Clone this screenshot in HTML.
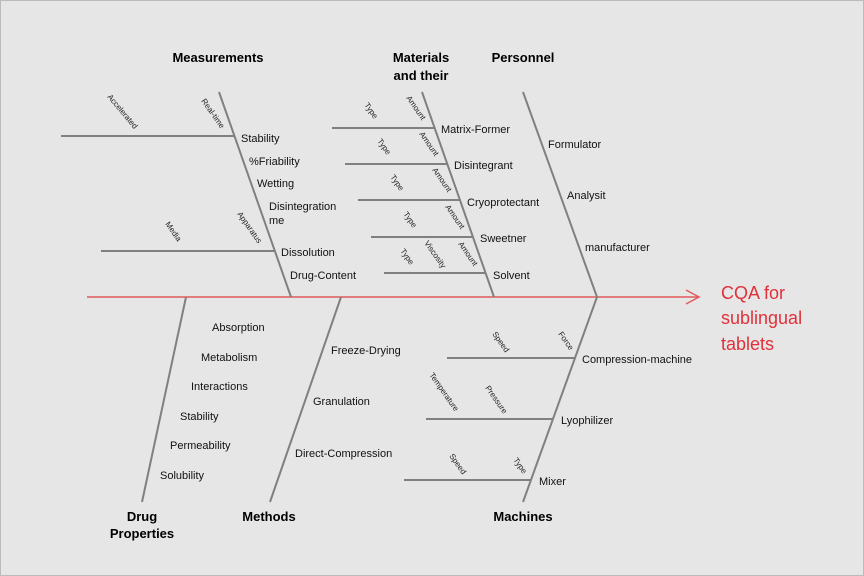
<!DOCTYPE html>
<html><head><meta charset="utf-8"><style>
html,body{margin:0;padding:0;background:#e6e6e6;}
svg{display:block;font-family:"Liberation Sans",sans-serif;}
.l{font-size:11px;fill:#111;}
.h{font-size:13px;font-weight:bold;fill:#000;}
.s{font-size:8px;fill:#222;}
line{stroke:#808080;stroke-width:2;}
</style></head><body>
<svg width="864" height="576" viewBox="0 0 864 576">
<rect x="0.5" y="0.5" width="863" height="575" fill="#e6e6e6" stroke="#bbb"/>
<line x1="87" y1="297" x2="698" y2="297" style="stroke:#e05a5a;stroke-width:1.5"/>
<polyline points="686,290 699,297 686,304" fill="none" stroke="#e05a5a" stroke-width="1.5"/>
<text x="721" y="299" font-size="18" fill="#e0303a">CQA for</text>
<text x="721" y="324" font-size="18" fill="#e0303a">sublingual</text>
<text x="721" y="350" font-size="18" fill="#e0303a">tablets</text>

<line x1="219" y1="92" x2="291" y2="297"/>
<line x1="422" y1="92" x2="494" y2="297"/>
<line x1="523" y1="92" x2="597" y2="297"/>
<line x1="186" y1="297" x2="142" y2="502"/>
<line x1="341" y1="297" x2="270" y2="502"/>
<line x1="597" y1="297" x2="523" y2="502"/>

<line x1="61" y1="136" x2="234" y2="136"/>
<line x1="101" y1="251" x2="275" y2="251"/>
<line x1="332" y1="128" x2="435" y2="128"/>
<line x1="345" y1="164" x2="447" y2="164"/>
<line x1="358" y1="200" x2="460" y2="200"/>
<line x1="371" y1="237" x2="473" y2="237"/>
<line x1="384" y1="273" x2="486" y2="273"/>
<line x1="447" y1="358" x2="575" y2="358"/>
<line x1="426" y1="419" x2="553" y2="419"/>
<line x1="404" y1="480" x2="531" y2="480"/>

<text class="h" x="218" y="62" text-anchor="middle">Measurements</text>
<text class="h" x="421" y="62" text-anchor="middle">Materials</text>
<text class="h" x="421" y="80" text-anchor="middle">and their</text>
<text class="h" x="523" y="62" text-anchor="middle">Personnel</text>
<text class="h" x="142" y="521" text-anchor="middle">Drug</text>
<text class="h" x="142" y="538" text-anchor="middle">Properties</text>
<text class="h" x="269" y="521" text-anchor="middle">Methods</text>
<text class="h" x="523" y="521" text-anchor="middle">Machines</text>

<g class="l">
<text x="241" y="142">Stability</text>
<text x="249" y="165">%Friability</text>
<text x="257" y="187">Wetting</text>
<text x="269" y="210">Disintegration</text>
<text x="269" y="224">me</text>
<text x="281" y="256">Dissolution</text>
<text x="290" y="279">Drug-Content</text>
<text x="441" y="133">Matrix-Former</text>
<text x="454" y="169">Disintegrant</text>
<text x="467" y="206">Cryoprotectant</text>
<text x="480" y="242">Sweetner</text>
<text x="493" y="279">Solvent</text>
<text x="548" y="148">Formulator</text>
<text x="567" y="199">Analysit</text>
<text x="585" y="251">manufacturer</text>
<text x="212" y="331">Absorption</text>
<text x="201" y="361">Metabolism</text>
<text x="191" y="390">Interactions</text>
<text x="180" y="420">Stability</text>
<text x="170" y="449">Permeability</text>
<text x="160" y="479">Solubility</text>
<text x="331" y="354">Freeze-Drying</text>
<text x="313" y="405">Granulation</text>
<text x="295" y="457">Direct-Compression</text>
<text x="582" y="363">Compression-machine</text>
<text x="561" y="424">Lyophilizer</text>
<text x="539" y="485">Mixer</text>
</g>

<g class="s">
<text transform="translate(107,97) rotate(50)">Accelerated</text>
<text transform="translate(201,101) rotate(55)">Real-time</text>
<text transform="translate(165,224) rotate(55)">Media</text>
<text transform="translate(237,214) rotate(55)">Apparatus</text>
<text transform="translate(364,105) rotate(55)">Type</text>
<text transform="translate(406,98) rotate(55)">Amount</text>
<text transform="translate(377,141) rotate(55)">Type</text>
<text transform="translate(419,134) rotate(55)">Amount</text>
<text transform="translate(390,177) rotate(55)">Type</text>
<text transform="translate(432,170) rotate(55)">Amount</text>
<text transform="translate(403,214) rotate(55)">Type</text>
<text transform="translate(445,207) rotate(55)">Amount</text>
<text transform="translate(400,251) rotate(55)">Type</text>
<text transform="translate(424,243) rotate(55)">Viscosity</text>
<text transform="translate(458,244) rotate(55)">Amount</text>
<text transform="translate(492,334) rotate(55)">Speed</text>
<text transform="translate(558,334) rotate(55)">Force</text>
<text transform="translate(429,375) rotate(55)">Temperature</text>
<text transform="translate(485,388) rotate(55)">Pressure</text>
<text transform="translate(449,456) rotate(55)">Speed</text>
<text transform="translate(513,460) rotate(55)">Type</text>
</g>
</svg>
</body></html>
